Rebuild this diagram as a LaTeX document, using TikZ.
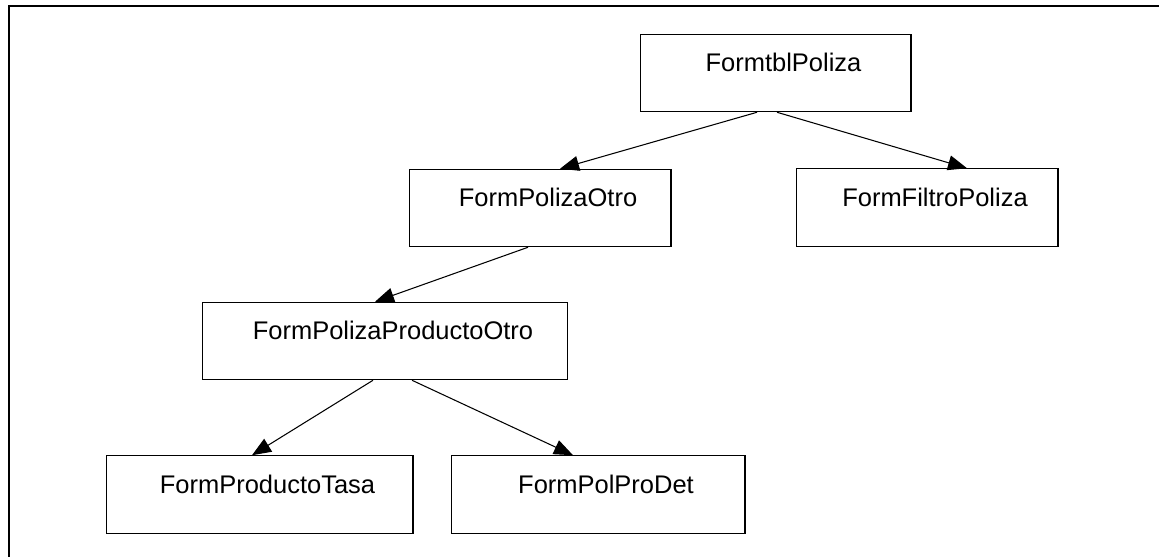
\documentclass[tikz,border=0pt]{standalone}
\usepackage{fontspec}
\setmainfont{Liberation Sans}
\usetikzlibrary{arrows.meta,calc}

\tikzset{
  formbox/.style={draw, line width=0.6pt, inner xsep=0pt, inner ysep=0pt,
    text height=0.75cm, text depth=0.8cm,
    execute at begin node=\hspace*{0.32cm}},
  llamada/.style={-{Triangle[length=0.38cm,width=0.3cm]}, line width=0.6pt}
}

\begin{document}
\begin{tikzpicture}[x=0.02cm, y=-0.02cm, font=\fontsize{14.5}{17}\selectfont]
\useasboundingbox (0,0) rectangle (1159,557);

% marco
\draw[line width=1.2pt] (9,557) -- (9,6) -- (1159,6);

\node[formbox, minimum width=5.42cm] (tbl) at (775.5,73) {FormtblPoliza};
\node[formbox, minimum width=5.24cm] (polotro) at (540,208) {FormPolizaOtro};
\node[formbox, minimum width=5.24cm] (filtro) at (927,207.5) {FormFiltroPoliza};
\node[formbox, minimum width=7.32cm] (prodotro) at (385,341) {FormPolizaProductoOtro};
\node[formbox, minimum width=6.14cm] (tasa) at (259.5,494.5) {FormProductoTasa};
\node[formbox, minimum width=5.88cm] (poldet) at (598,494.5) {FormPolProDet};

\draw[llamada] ($(tbl.south)+(-18.5,0)$) -- ($(polotro.north)+(20,0)$);
\draw[llamada] ($(tbl.south)+(1.5,0)$) -- ($(filtro.north)+(40,0)$);
\draw[llamada] ($(polotro.south)+(-12,0)$) -- ($(prodotro.north)+(-10,0)$);
\draw[llamada] ($(prodotro.south)+(-12,0)$) -- ($(tasa.north)+(-7.5,0)$);
\draw[llamada] ($(prodotro.south)+(27,0)$) -- ($(poldet.north)+(-25,0)$);
\end{tikzpicture}
\end{document}
